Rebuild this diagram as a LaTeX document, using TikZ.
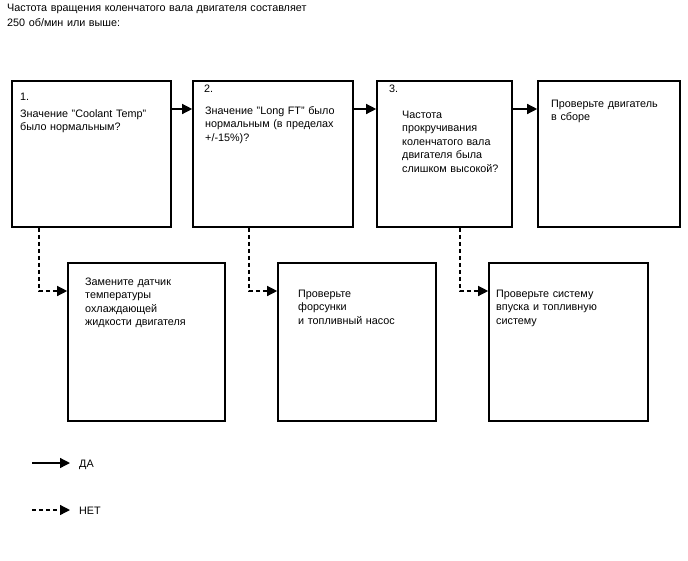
\documentclass[tikz,border=0pt]{standalone}
\usepackage{fontspec}
\setmainfont{Liberation Sans}
\usetikzlibrary{arrows.meta}
\begin{document}
\begin{tikzpicture}[x=1pt,y=-1pt,
  box/.style={draw,line width=1.6pt,rectangle,inner sep=0pt},
  txt/.style={anchor=base west,inner sep=0pt,align=left,font=\fontsize{10.8}{13.5}\selectfont},
  yes/.style={line width=1.3pt,-{Triangle[length=10pt,width=10pt]}},
  no/.style={line width=1.3pt,dash pattern=on 4pt off 3pt,-{Triangle[length=10pt,width=10pt]}}]
\useasboundingbox (0,0) rectangle (688,560);
% title
\node[txt,text width=400pt,font=\fontsize{10.8}{15}\selectfont] (title) at (7,11) {Частота вращения коленчатого вала двигателя составляет\\250 об/мин или выше:};
% top row boxes
\node[box,minimum width=159pt,minimum height=146pt] (b1) at (91.5,154) {};
\node[box,minimum width=160pt,minimum height=146pt] (b2) at (273,154) {};
\node[box,minimum width=135pt,minimum height=146pt] (b3) at (444.5,154) {};
\node[box,minimum width=142pt,minimum height=146pt] (b4) at (609,154) {};
% bottom row boxes
\node[box,minimum width=157pt,minimum height=158pt] (b5) at (146.5,342) {};
\node[box,minimum width=158pt,minimum height=158pt] (b6) at (357,342) {};
\node[box,minimum width=159pt,minimum height=158pt] (b7) at (568.5,342) {};
% texts
\node[txt] (n1) at (20,100) {1.};
\node[txt,text width=150pt] (t1) at (20,117) {Значение "Coolant Temp"\\было нормальным?};
\node[txt] (n2) at (204,92) {2.};
\node[txt,text width=150pt] (t2) at (205,114) {Значение "Long FT" было\\нормальным (в пределах\\+/-15\%)?};
\node[txt] (n3) at (389,92) {3.};
\node[txt,text width=110pt] (t3) at (402,118) {Частота\\прокручивания\\коленчатого вала\\двигателя была\\слишком высокой?};
\node[txt,text width=130pt] (t4) at (551,107) {Проверьте двигатель\\в сборе};
\node[txt,text width=140pt] (t5) at (85,285) {Замените датчик\\температуры\\охлаждающей\\жидкости двигателя};
\node[txt,text width=140pt] (t6) at (298,297) {Проверьте\\форсунки\\и топливный насос};
\node[txt,text width=140pt] (t7) at (496,297) {Проверьте систему\\впуска и топливную\\систему};
% yes connectors
\draw[yes] (b1.east |- 0,109) -- (b2.west |- 0,109);
\draw[yes] (b2.east |- 0,109) -- (b3.west |- 0,109);
\draw[yes] (b3.east |- 0,109) -- (b4.west |- 0,109);
% no connectors
\draw[no] (b1.south -| 39,0) |- (b5.west |- 0,291);
\draw[no] (b2.south -| 249,0) |- (b6.west |- 0,291);
\draw[no] (b3.south -| 460,0) |- (b7.west |- 0,291);
% legend
\coordinate (ya) at (32,463);
\coordinate (yb) at (70,463);
\coordinate (na) at (32,510);
\coordinate (nb) at (70,510);
\draw[yes] (ya) -- (yb);
\draw[no] (na) -- (nb);
\node[txt] (lda) at (79,467) {ДА};
\node[txt] (lnet) at (79,514) {НЕТ};
\end{tikzpicture}
\end{document}
